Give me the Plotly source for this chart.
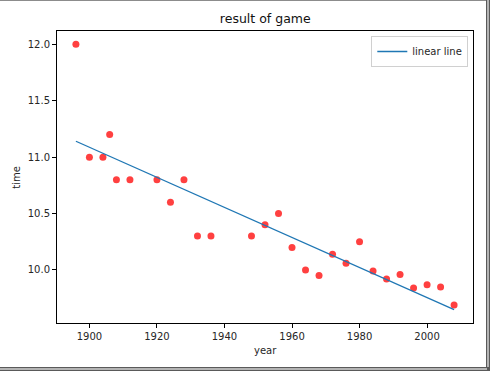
import plotly.graph_objects as go

years = [1896, 1900, 1904, 1906, 1908, 1912, 1920, 1924, 1928, 1932, 1936, 1948,
         1952, 1956, 1960, 1964, 1968, 1972, 1976, 1980, 1984, 1988, 1992, 1996,
         2000, 2004, 2008]
times = [12.0, 11.0, 11.0, 11.2, 10.8, 10.8, 10.8, 10.6, 10.8, 10.3, 10.3, 10.3,
         10.4, 10.5, 10.2, 10.0, 9.95, 10.14, 10.06, 10.25, 9.99, 9.92, 9.96, 9.84,
         9.87, 9.85, 9.69]
line_years = [1896, 2008]
line_times = [11.141, 9.648]
x_ticks = [1900, 1920, 1940, 1960, 1980, 2000]
y_ticks = [10.0, 10.5, 11.0, 11.5, 12.0]

FONT = "DejaVu Sans"
TXT = "#262626"

fig = go.Figure()
fig.add_trace(go.Scatter(
    x=years, y=times, mode="markers", showlegend=False,
    marker=dict(color="rgba(255,0,0,0.75)", size=7, line=dict(width=0)),
))
fig.add_trace(go.Scatter(
    x=line_years, y=line_times, mode="lines", name="linear line",
    line=dict(color="#1f77b4", width=1.3),
))

axis_common = dict(
    showgrid=False, zeroline=False, showline=True, linecolor="black",
    linewidth=1, mirror=True, ticks="outside", ticklen=4, tickwidth=1,
    tickcolor="black", tickfont=dict(family=FONT, size=10, color=TXT),
)

fig.update_layout(
    width=490, height=371,
    margin=dict(l=57, r=17, t=31, b=48),
    paper_bgcolor="white", plot_bgcolor="white",
    font=dict(family=FONT, size=10, color=TXT),
    title=dict(text="result of game", x=0.5414, xanchor="center",
               y=1 - 19 / 371, yanchor="middle",
               font=dict(family=FONT, size=12.5, color="#111")),
    xaxis=dict(range=[1890.4, 2013.6], tickvals=x_ticks,
               ticktext=[str(v) for v in x_ticks], **axis_common),
    yaxis=dict(range=[9.530, 12.118], tickvals=y_ticks,
               ticktext=[f"{v:.1f}" for v in y_ticks], **axis_common),
    legend=dict(x=0.9887, y=0.9829, xanchor="right", yanchor="top",
                bgcolor="white", bordercolor="#d0d0d0", borderwidth=1,
                font=dict(family=FONT, size=10, color=TXT),
                itemwidth=30, tracegroupgap=0),
    showlegend=True,
)

fig.add_annotation(text="year", xref="paper", yref="paper", x=0.5, y=-0.0949,
                   xanchor="center", yanchor="middle", showarrow=False,
                   font=dict(family=FONT, size=10, color=TXT))
fig.add_annotation(text="time", xref="paper", yref="paper", x=-0.0993, y=0.5,
                   xanchor="center", yanchor="middle", showarrow=False,
                   textangle=-90, font=dict(family=FONT, size=10, color=TXT))

# window frame around the picture
def px_x(p):
    return (p - 57) / 416

def px_y(p):
    return (323 - p) / 292

shapes = [
    dict(type="rect", xref="paper", yref="paper", x0=px_x(0), x1=px_x(487),
         y0=px_y(0), y1=px_y(1), fillcolor="#8c8c8c", line=dict(width=0)),
    dict(type="rect", xref="paper", yref="paper", x0=px_x(486), x1=px_x(490),
         y0=px_y(0), y1=px_y(371), fillcolor="#5a5a5a", line=dict(width=0)),
    dict(type="rect", xref="paper", yref="paper", x0=px_x(487), x1=px_x(489),
         y0=px_y(0), y1=px_y(369), fillcolor="#b4b4b4", line=dict(width=0)),
    dict(type="rect", xref="paper", yref="paper", x0=px_x(0), x1=px_x(490),
         y0=px_y(367), y1=px_y(371), fillcolor="#5a5a5a", line=dict(width=0)),
    dict(type="rect", xref="paper", yref="paper", x0=px_x(0), x1=px_x(487),
         y0=px_y(368), y1=px_y(370), fillcolor="#b4b4b4", line=dict(width=0)),
]
fig.update_layout(shapes=shapes)

fig.write_html("out.html")
